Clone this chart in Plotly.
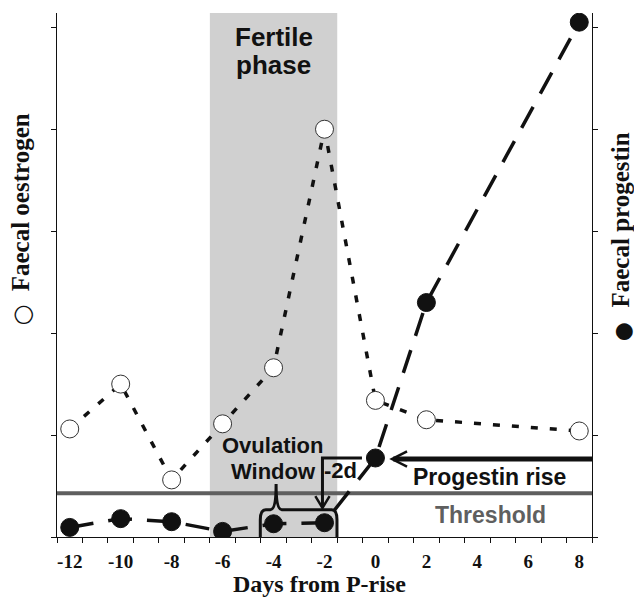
import plotly.graph_objects as go

# ---- data ----
days = [-12, -10, -8, -6, -4, -2, 0, 2, 8]
oestrogen = [1.06, 1.50, 0.56, 1.11, 1.66, 4.00, 1.34, 1.15, 1.04]
progestin = [0.094, 0.18, 0.15, 0.055, 0.13, 0.14, 0.775, 2.30, 5.05]
x_tick_vals = [-12, -10, -8, -6, -4, -2, 0, 2, 4, 6, 8]
x_tick_text = ["-12", "-10", "-8", "-6", "-4", "-2", "0", "2", "4", "6", "8"]
y_tick_vals = [0, 1, 2, 3, 4, 5]
fertile_phase = [-6.5, -1.5]
threshold = 0.43

X_RANGE = [-12.5, 8.5]
Y_RANGE = [0, 5.14]

fig = go.Figure()

fig.add_trace(go.Scatter(
    x=days, y=oestrogen, mode="lines+markers", name="Faecal oestrogen",
    line=dict(color="#111111", width=3.5, dash="7px,12px"),
    marker=dict(symbol="circle", size=18, color="white",
                line=dict(color="#333333", width=1)),
    yaxis="y", showlegend=False,
))
fig.add_trace(go.Scatter(
    x=days, y=progestin, mode="lines+markers", name="Faecal progestin",
    line=dict(color="#111111", width=3.5, dash="24px,15px"),
    marker=dict(symbol="circle", size=18, color="#111111",
                line=dict(color="#111111", width=1)),
    yaxis="y2", showlegend=False,
))

shapes = []
# fertile phase band
shapes.append(dict(type="rect", xref="x", yref="paper",
                   x0=fertile_phase[0], x1=fertile_phase[1], y0=0, y1=1,
                   fillcolor="#d0d0d0", line=dict(width=0), layer="below"))
# threshold line
shapes.append(dict(type="line", xref="paper", yref="y", x0=0, x1=1,
                   y0=threshold, y1=threshold,
                   line=dict(color="#5f5f5f", width=4), layer="below"))
# progestin rise arrow
shapes.append(dict(type="line", xref="x", yref="y", x0=0.70, x1=8.5,
                   y0=0.765, y1=0.765, line=dict(color="#111111", width=5)))
shapes.append(dict(type="path", xref="x", yref="y",
                   path="M 1.24,0.839 L 0.65,0.765 L 1.24,0.691",
                   line=dict(color="#111111", width=2.5)))
# -2d arrow
shapes.append(dict(type="path", xref="x", yref="y",
                   path="M -0.53,0.775 L -2.08,0.775 L -2.08,0.30",
                   line=dict(color="#111111", width=3)))
shapes.append(dict(type="path", xref="x", yref="y",
                   path="M -2.36,0.40 L -2.08,0.285 L -1.80,0.40",
                   line=dict(color="#111111", width=2.5)))
# ovulation window brace
brace = ("M -4.52,0 L -4.52,0.17 Q -4.52,0.268 -4.30,0.268 L -4.12,0.268 "
         "Q -3.90,0.268 -3.90,0.52 Q -3.90,0.268 -3.68,0.268 L -1.72,0.268 "
         "Q -1.51,0.268 -1.51,0.17 L -1.51,0")
shapes.append(dict(type="path", xref="x", yref="y", path=brace,
                   line=dict(color="#111111", width=3)))

sans = "Liberation Sans, Arial, sans-serif"
serif = "Liberation Serif, Times New Roman, serif"
symfont = "DejaVu Sans"

annotations = []
def txt(x, y, text, size, color="#111111", xref="x", yref="y", angle=0, family=sans,
        weight="bold"):
    annotations.append(dict(x=x, y=y, xref=xref, yref=yref, text=text,
                            showarrow=False, textangle=angle,
                            font=dict(family=family, size=size, color=color, weight=weight),
                            xanchor="center", yanchor="middle"))

txt(-4.0, 4.905, "Fertile", 26)
txt(-4.0, 4.63, "phase", 26)
txt(-4.04, 0.897, "Ovulation", 22)
txt(-4.02, 0.645, "Window", 22)
txt(-1.37, 0.655, "-2d", 22)
txt(4.47, 0.59, "Progestin rise", 23)
txt(4.51, 0.22, "Threshold", 23, color="#5f5f5f")
txt(-2.2, -0.09, "Days from P-rise", 24, xref="x", yref="paper", family=serif)
# y-axis titles (symbol + words)
txt(-0.066, 0.4246, "○", 24, xref="paper", yref="paper", angle=-90, family=symfont,
    weight="normal")
txt(-0.068, 0.638, "Faecal oestrogen", 25, xref="paper", yref="paper", angle=-90, family=serif)
txt(1.057, 0.3918, "●", 22, xref="paper", yref="paper", angle=-90, family=symfont,
    weight="normal")
txt(1.0533, 0.605, "Faecal progestin", 25, xref="paper", yref="paper", angle=-90, family=serif)

# The page body adds an 8px margin; offset the figure so it lines up with the 642x605 window.
fig.update_layout(
    width=634, height=589,
    margin=dict(l=49, r=50, t=5, b=60),
    paper_bgcolor="white", plot_bgcolor="white",
    shapes=shapes, annotations=annotations,
    xaxis=dict(range=X_RANGE, tickmode="array", tickvals=x_tick_vals, ticktext=x_tick_text,
               ticks="", showgrid=False, zeroline=False,
               showline=True, linecolor="#111111", linewidth=1.2,
               tickfont=dict(family=serif, size=19, color="#111111", weight="bold"),
               ticklabelstandoff=7,
               minor=dict(tickmode="linear", tick0=0.5, dtick=1, ticks="outside",
                          ticklen=5, tickwidth=1, tickcolor="#111111", showgrid=False)),
    yaxis=dict(range=Y_RANGE, tickmode="array", tickvals=y_tick_vals, showticklabels=False,
               ticks="outside", ticklen=5, tickwidth=1, tickcolor="#111111",
               showgrid=False, zeroline=False, showline=True,
               linecolor="#111111", linewidth=1.2),
    yaxis2=dict(range=Y_RANGE, overlaying="y", side="right", tickmode="array",
                tickvals=y_tick_vals, showticklabels=False,
                ticks="outside", ticklen=5, tickwidth=1, tickcolor="#111111",
                showgrid=False, zeroline=False, showline=True,
                linecolor="#111111", linewidth=1.2),
)

fig.write_html("out.html")
